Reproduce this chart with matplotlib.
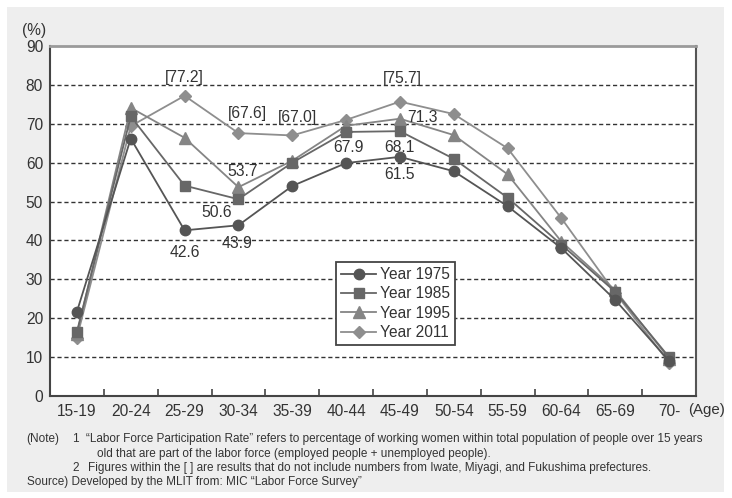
import matplotlib
matplotlib.use("Agg")
import matplotlib.pyplot as plt
from matplotlib.patches import Rectangle
import numpy as np

plt.rcParams['font.family'] = ['Liberation Sans', 'DejaVu Sans']

age_groups = ["15-19", "20-24", "25-29", "30-34", "35-39", "40-44",
              "45-49", "50-54", "55-59", "60-64", "65-69", "70-"]

rate_1975 = [21.7, 66.2, 42.6, 43.9, 54.0, 59.9, 61.5, 57.8, 48.8, 38.0, 24.7, 9.0]
rate_1985 = [16.5, 71.9, 54.1, 50.6, 60.0, 67.9, 68.1, 61.0, 51.0, 38.9, 26.8, 10.0]
rate_1995 = [16.0, 74.1, 66.4, 53.7, 60.5, 69.5, 71.3, 67.1, 57.0, 39.7, 27.2, 9.6]
rate_2011 = [15.0, 69.4, 77.2, 67.6, 67.0, 71.0, 75.7, 72.5, 63.7, 45.7, 26.5, 8.6]

series_labels = ["Year 1975", "Year 1985", "Year 1995", "Year 2011"]

# value labels: (series index, age index, bracketed, offset in points)
value_labels = [
    (3, 2, True, (0, 13)),
    (3, 3, True, (6.5, 14.4)),
    (3, 4, True, (3.6, 13)),
    (2, 3, False, (3, 11)),
    (1, 3, False, (-16, -9.4)),
    (0, 2, False, (0, -16)),
    (0, 3, False, (-0.7, -13)),
    (1, 5, False, (1.4, -11.5)),
    (3, 6, True, (1.8, 17)),
    (2, 6, False, (16, 1.2)),
    (1, 6, False, (0, -11.5)),
    (0, 6, False, (0, -13)),
]

W, H = 732, 498
fig = plt.figure(figsize=(W / 100, H / 100), dpi=100, facecolor="white")

# light gray panel behind the chart and notes
panel = Rectangle((7 / W, 1 - 492 / H), (724 - 7) / W, (492 - 7) / H,
                  transform=fig.transFigure, facecolor="#eeeeee",
                  edgecolor="none", zorder=-10)
fig.patches.append(panel)

ax = fig.add_axes([50 / W, 1 - 396 / H, 646 / W, 350 / H])
ax.set_zorder(1)
ax.set_facecolor("white")

x = np.arange(len(age_groups))
all_series = [rate_1975, rate_1985, rate_1995, rate_2011]
styles = [
    dict(marker="o", color="#555555", ms=7.5),
    dict(marker="s", color="#676767", ms=7),
    dict(marker="^", color="#858585", ms=8),
    dict(marker="D", color="#8e8e8e", ms=6.5),
]
for i, (vals, st, lab) in enumerate(zip(all_series, styles, series_labels)):
    ax.plot(x, vals, marker=st["marker"], color=st["color"], ms=st["ms"],
            lw=1.3, mec=st["color"], label=lab, zorder=10 - i)

for si, ai, bracket, off in value_labels:
    v = all_series[si][ai]
    txt = f"[{v:.1f}]" if bracket else f"{v:.1f}"
    ax.annotate(txt, (x[ai], v), xytext=off, textcoords="offset points",
                ha="center", va="center", fontsize=11.3, color="#333333", zorder=20)

ax.set_xlim(-0.5, len(age_groups) - 0.5)
ax.set_ylim(0, 90)
ax.set_yticks(np.arange(0, 91, 10))
ax.set_xticks(x)
ax.set_xticklabels(age_groups)
ax.set_xticks(np.arange(0.5, len(age_groups) - 1, 1.0), minor=True)
ax.tick_params(axis="x", which="major", length=0, pad=6, labelsize=11.2, labelcolor="#333333")
ax.tick_params(axis="x", which="minor", direction="in", length=5, width=1.2, color="#444444")
ax.tick_params(axis="y", length=0, pad=5, labelsize=11.2, labelcolor="#333333")

for yv in range(10, 90, 10):
    ax.axhline(yv, color="#333333", lw=1.0, ls=(0, (3, 2)), zorder=1)

ax.spines["left"].set_color("#444444")
ax.spines["left"].set_linewidth(1.5)
ax.spines["bottom"].set_color("#444444")
ax.spines["bottom"].set_linewidth(1.5)
ax.spines["right"].set_color("#555555")
ax.spines["right"].set_linewidth(1.5)
ax.spines["top"].set_color("#9a9a9a")
ax.spines["top"].set_linewidth(2)

leg = ax.legend(loc="upper left", bbox_to_anchor=(0.442, 0.383), fontsize=11.2,
                handlelength=2.3, handletextpad=0.25, labelspacing=0.28,
                borderpad=0.33, borderaxespad=0, fancybox=False,
                edgecolor="#444444", framealpha=1, labelcolor="#333333")
leg.get_frame().set_linewidth(1.3)
leg.set_zorder(30)

fig.text(22 / W, 1 - 31 / H, "(%)", fontsize=11.2, color="#333333", va="center")
fig.text(688 / W, 1 - 410 / H, "(Age)", fontsize=10.8, color="#333333", va="center")

note_kw = dict(fontsize=8.5, color="#333333", va="center")
fig.text(26 / W, 1 - 439 / H, "(Note)", **note_kw)
fig.text(72 / W, 1 - 439 / H, "1", **note_kw)
fig.text(86 / W, 1 - 439 / H,
         "\u201cLabor Force Participation Rate\u201d refers to percentage of working women "
         "within total population of people over 15 years", **note_kw)
fig.text(97 / W, 1 - 454 / H,
         "old that are part of the labor force (employed people + unemployed people).", **note_kw)
fig.text(72 / W, 1 - 468 / H, "2", **note_kw)
fig.text(88 / W, 1 - 468 / H,
         "Figures within the [ ] are results that do not include numbers from Iwate, "
         "Miyagi, and Fukushima prefectures.", **note_kw)
fig.text(27 / W, 1 - 482 / H,
         "Source) Developed by the MLIT from: MIC \u201cLabor Force Survey\u201d", **note_kw)

fig.savefig("out.png", dpi=100, facecolor=fig.get_facecolor())
